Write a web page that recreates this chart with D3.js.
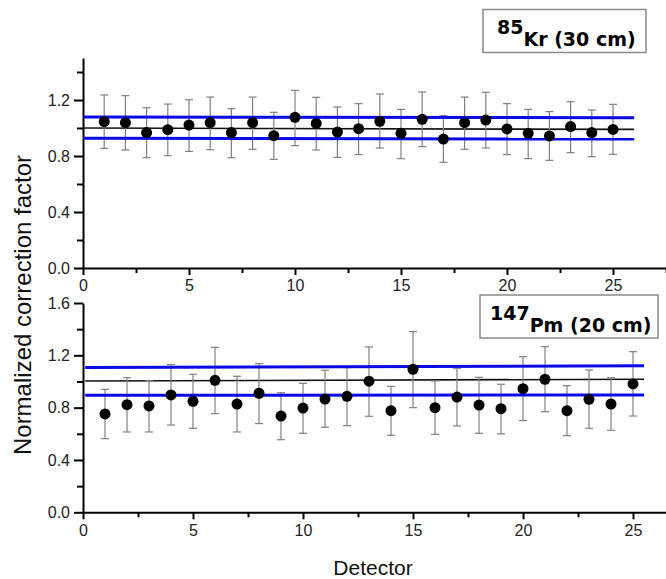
<!DOCTYPE html>
<html><head><meta charset="utf-8">
<script src="https://cdn.jsdelivr.net/npm/d3@7"></script>
<style>body{margin:0;background:#fff}svg{display:block}</style>
</head><body>
<svg id="c" width="666" height="579"></svg>
<script>
// ---- data ----
const detectors = d3.range(1, 26);
const krValues = [1.045,1.038,0.967,0.988,1.021,1.038,0.967,1.038,0.945,1.076,1.033,0.971,0.995,1.048,0.962,1.062,0.921,1.038,1.057,0.993,0.962,0.943,1.010,0.967,0.990];
const krErrHigh = [1.236,1.231,1.145,1.171,1.202,1.221,1.138,1.221,1.112,1.269,1.219,1.150,1.174,1.243,1.133,1.257,1.088,1.221,1.255,1.174,1.133,1.117,1.188,1.129,1.169];
const krErrLow  = [0.855,0.843,0.788,0.802,0.833,0.845,0.788,0.848,0.776,0.874,0.843,0.790,0.810,0.857,0.781,0.867,0.755,0.848,0.857,0.810,0.781,0.769,0.824,0.795,0.812];
const krMean  = [1.000, 0.990];
const krUpper = [1.079, 1.074];
const krLower = [0.926, 0.921];
const krLineX = [0, 26];

const pmValues = [0.752,0.823,0.813,0.897,0.849,1.009,0.828,0.910,0.736,0.797,0.866,0.887,1.002,0.777,1.093,0.800,0.881,0.820,0.792,0.945,1.017,0.777,0.864,0.828,0.981];
const pmErrHigh = [0.940,1.029,1.006,1.129,1.055,1.261,1.040,1.136,0.914,0.986,1.086,1.106,1.264,0.963,1.381,1.004,1.101,1.032,0.979,1.190,1.266,0.968,1.088,1.029,1.228];
const pmErrLow  = [0.563,0.614,0.614,0.667,0.642,0.754,0.614,0.678,0.555,0.604,0.650,0.662,0.734,0.589,0.800,0.596,0.660,0.604,0.599,0.701,0.769,0.586,0.642,0.627,0.736];
const pmMean  = [1.004, 1.017];
const pmUpper = [1.106, 1.121];
const pmLower = [0.894, 0.897];
const pmLineX = [0.1, 25.5];

const xMajorTicks = [0,5,10,15,20,25];
const yMajorTicksTop = [0,0.4,0.8,1.2];
const yMajorTicksBottom = [0,0.4,0.8,1.2,1.6];

const svg = d3.select("#c");
const FONT = "'Liberation Sans', Arial, sans-serif";

function panel(cfg){
  const x = d3.scaleLinear().domain(cfg.xDomain).range([83, 666]);
  const y = d3.scaleLinear().domain(cfg.yDomain).range(cfg.yRange);
  const g = svg.append("g");
  // minor x ticks
  const xMinor = d3.range(2.5, cfg.xDomain[1] + 0.001, 5);
  g.append("g").attr("transform", `translate(0,${cfg.yRange[0]})`)
    .call(d3.axisBottom(x).tickValues(xMinor).tickSize(5).tickFormat(""))
    .call(a => a.select(".domain").remove())
    .call(a => a.selectAll("line").attr("stroke","#000").attr("stroke-width",2));
  // minor y ticks
  const yMinor = d3.range(0.2, cfg.yDomain[1] + 0.001, 0.4);
  g.append("g").attr("transform", `translate(83,0)`)
    .call(d3.axisLeft(y).tickValues(yMinor).tickSize(6).tickFormat(""))
    .call(a => a.select(".domain").remove())
    .call(a => a.selectAll("line").attr("stroke","#000").attr("stroke-width",2));
  // major x
  g.append("g").attr("transform", `translate(0,${cfg.yRange[0]})`)
    .call(d3.axisBottom(x).tickValues(xMajorTicks).tickSize(7).tickSizeOuter(0).tickPadding(5).tickFormat(d3.format("d")))
    .call(a => a.select(".domain").attr("stroke","#000").attr("stroke-width",2))
    .call(a => a.selectAll("line").attr("stroke","#000").attr("stroke-width",2))
    .call(a => a.selectAll("text").attr("font-family",FONT).attr("font-size",16).attr("fill","#222"));
  // major y
  g.append("g").attr("transform", `translate(83,0)`)
    .call(d3.axisLeft(y).tickValues(cfg.yTicks).tickSize(9).tickSizeOuter(0).tickPadding(4).tickFormat(d3.format(".1f")))
    .call(a => a.select(".domain").attr("stroke","#000").attr("stroke-width",2))
    .call(a => a.selectAll("line").attr("stroke","#000").attr("stroke-width",2))
    .call(a => a.selectAll("text").attr("font-family",FONT).attr("font-size",16).attr("fill","#222"));

  // reference lines
  const ln = (vals, color, w) => g.append("line")
    .attr("x1", x(cfg.lineX[0])).attr("x2", x(cfg.lineX[1]))
    .attr("y1", y(vals[0])).attr("y2", y(vals[1]))
    .attr("stroke", color).attr("stroke-width", w);
  ln(cfg.mean, "#111", 1.6);

  // error bars
  const eb = g.append("g").attr("stroke","#808080").attr("stroke-width",1.2);
  detectors.forEach((d,i) => {
    const cx = x(d);
    eb.append("line").attr("x1",cx).attr("x2",cx).attr("y1",y(cfg.hi[i])).attr("y2",y(cfg.lo[i]));
    eb.append("line").attr("x1",cx-4).attr("x2",cx+4).attr("y1",y(cfg.hi[i])).attr("y2",y(cfg.hi[i]));
    eb.append("line").attr("x1",cx-4).attr("x2",cx+4).attr("y1",y(cfg.lo[i])).attr("y2",y(cfg.lo[i]));
  });
  ln(cfg.upper, "#0a0ae6", 3);
  ln(cfg.lower, "#0a0ae6", 3);
  // points
  g.append("g").selectAll("circle").data(cfg.vals).join("circle")
    .attr("cx",(v,i)=>x(detectors[i])).attr("cy",v=>y(v)).attr("r",5.5).attr("fill","#000");

  // legend box
  const lb = cfg.box;
  g.append("rect").attr("x",lb.x).attr("y",lb.y).attr("width",lb.w).attr("height",lb.h)
    .attr("fill","#fff").attr("stroke","#8a8a8a").attr("stroke-width",1.5);
  const t = g.append("text").attr("x",lb.tx).attr("y",lb.ty)
    .attr("font-family","'DejaVu Sans', Verdana, sans-serif").attr("font-weight","bold").attr("font-size",19).attr("fill","#000");
  t.append("tspan").text(cfg.sup);
  t.append("tspan").attr("dy",12).text(cfg.label);
}

panel({
  xDomain:[0,27.5], yDomain:[0,1.5], yRange:[268, 58], yTicks: yMajorTicksTop,
  vals: krValues, hi: krErrHigh, lo: krErrLow,
  mean: krMean, upper: krUpper, lower: krLower, lineX: krLineX,
  box:{x:483,y:9.5,w:163,h:43, tx:497, ty:33.5}, sup:"85", label:"Kr (30 cm)"
});
panel({
  xDomain:[0,26.5], yDomain:[0,1.6], yRange:[512.3, 303], yTicks: yMajorTicksBottom,
  vals: pmValues, hi: pmErrHigh, lo: pmErrLow,
  mean: pmMean, upper: pmUpper, lower: pmLower, lineX: pmLineX,
  box:{x:480,y:295,w:178,h:43, tx:490, ty:320}, sup:"147", label:"Pm (20 cm)"
});

// axis titles
svg.append("text").attr("x",373).attr("y",575).attr("text-anchor","middle")
  .attr("font-family",FONT).attr("font-size",21).attr("fill","#111").text("Detector");
svg.append("text").attr("transform","translate(31,305) rotate(-90)").attr("text-anchor","middle")
  .attr("font-family",FONT).attr("font-size",24).attr("fill","#111").text("Normalized correction factor");
</script>
</body></html>
